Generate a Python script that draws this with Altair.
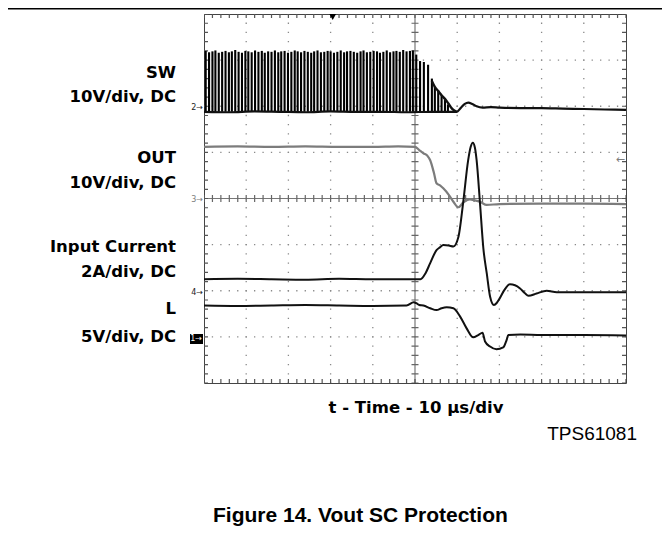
import altair as alt
import pandas as pd

# ---------------- data (divisions: x 0..10, y 0..8) ----------------
pulse_t = [0.04, 0.12, 0.20, 0.27, 0.35, 0.43, 0.51, 0.59, 0.66, 0.74,
           0.82, 0.90, 0.98, 1.05, 1.13, 1.21, 1.29, 1.37, 1.44, 1.52,
           1.60, 1.68, 1.76, 1.83, 1.91, 1.99, 2.07, 2.15, 2.22, 2.30,
           2.38, 2.46, 2.54, 2.61, 2.69, 2.77, 2.85, 2.93, 3.00, 3.08,
           3.16, 3.24, 3.32, 3.39, 3.47, 3.55, 3.63, 3.71, 3.78, 3.86,
           3.94, 4.02, 4.10, 4.17, 4.25, 4.33, 4.41, 4.49, 4.56, 4.64,
           4.72, 4.80, 4.88, 4.95,
           5.03, 5.12, 5.21, 5.31, 5.40, 5.47, 5.55, 5.63, 5.71, 5.78]
pulse_top = [7.20, 7.17, 7.19, 7.21, 7.16, 7.18, 7.20, 7.17, 7.19, 7.22,
             7.18, 7.16, 7.20, 7.19, 7.17, 7.21, 7.18, 7.20, 7.16, 7.19,
             7.18, 7.21, 7.17, 7.19, 7.20, 7.16, 7.18, 7.21, 7.19, 7.17,
             7.20, 7.18, 7.16, 7.19, 7.21, 7.17, 7.18, 7.20, 7.19, 7.16,
             7.18, 7.21, 7.17, 7.19, 7.20, 7.18, 7.16, 7.19, 7.21, 7.17,
             7.18, 7.20, 7.19, 7.16, 7.18, 7.21, 7.17, 7.19, 7.20, 7.18,
             7.22, 7.19, 7.20, 7.21,
             7.12, 6.98, 6.96, 6.90, 6.60, 6.42, 6.34, 6.24, 6.14, 6.04]
pulse_base = 5.88

sw_t = [0.0, 0.6, 1.2, 1.8, 2.4, 3.0, 3.6, 4.2, 4.8, 5.4, 5.85, 5.99, 6.08,
        6.18, 6.26, 6.36, 6.46, 6.6, 6.8, 7.0, 7.5, 8.0, 8.5, 9.0, 9.5, 10.0]
sw_v = [5.88, 5.87, 5.89, 5.88, 5.87, 5.89, 5.88, 5.88, 5.87, 5.88, 5.88, 5.88, 5.96,
        6.05, 6.08, 6.05, 6.00, 5.97, 5.98, 5.97, 5.96, 5.96, 5.95, 5.94, 5.93, 5.92]

swe_t = [5.40, 5.47, 5.55, 5.63, 5.71, 5.79, 5.85, 5.91, 5.99]
swe_v = [6.55, 6.42, 6.33, 6.24, 6.16, 6.06, 5.98, 5.92, 5.88]

out_t = [0.0, 0.8, 1.6, 2.4, 3.2, 4.0, 4.6, 5.0, 5.1, 5.2, 5.3, 5.36, 5.45, 5.51,
         5.6, 5.67, 5.8, 5.91, 6.03, 6.14, 6.3, 6.42, 6.54, 6.7, 7.0, 8.0, 9.0, 10.0]
out_v = [5.12, 5.13, 5.12, 5.13, 5.12, 5.12, 5.13, 5.12, 5.05, 4.98, 4.92, 4.83, 4.55, 4.33,
         4.28, 4.22, 4.08, 3.93, 3.81, 3.91, 3.98, 3.96, 3.93, 3.86, 3.88, 3.89, 3.89, 3.88]

cur_t = [0.0, 0.8, 1.6, 2.4, 3.2, 4.0, 4.8, 5.13, 5.25, 5.36, 5.51, 5.59, 5.67, 5.8,
         5.91, 6.03, 6.14, 6.26, 6.32, 6.37, 6.42, 6.46, 6.54, 6.62, 6.70, 6.78, 6.87,
         6.94, 7.01, 7.12, 7.25, 7.37, 7.49, 7.6, 7.69, 7.88, 8.12, 8.36, 9.0, 10.0]
cur_v = [2.25, 2.26, 2.25, 2.24, 2.26, 2.25, 2.25, 2.25, 2.38, 2.60, 2.88, 2.94, 2.99, 2.98,
         2.96, 3.17, 3.90, 4.83, 5.12, 5.21, 5.10, 4.83, 3.90, 2.92, 2.38, 1.87, 1.69,
         1.74, 1.84, 2.02, 2.14, 2.12, 2.05, 1.95, 1.89, 1.94, 2.00, 1.97, 1.97, 1.97]

l_t = [0.0, 0.8, 1.6, 2.4, 3.2, 4.0, 4.8, 4.97, 5.03, 5.1, 5.2, 5.36, 5.51, 5.63, 5.75,
       5.91, 6.07, 6.22, 6.38, 6.50, 6.60, 6.66, 6.78, 6.93, 7.09, 7.17, 7.21, 7.5, 8.0, 9.0, 10.0]
l_v = [1.68, 1.67, 1.68, 1.69, 1.68, 1.67, 1.68, 1.75, 1.73, 1.69, 1.68, 1.62, 1.58, 1.62, 1.64,
       1.62, 1.44, 1.19, 0.99, 1.04, 1.09, 0.90, 0.79, 0.73, 0.77, 0.93, 1.04, 1.05, 1.04, 1.04, 1.03]

x_range = [0, 10]
y_range = [0, 8]
major_x = [1, 2, 3, 4, 6, 7, 8, 9]
major_y = [1, 2, 3, 5, 6, 7]
center_x = [5]
center_y = [4]

marker_text = ["2\u2192", "4\u2192"]
marker_level = [5.96, 1.96]
marker3_text = ["3\u2192"]
marker3_level = [3.96]
ch1_text = ["1\u2192"]
ch1_level = [0.95]
ref_arrow = ["\u2190"]
ref_level = [4.83]
trigger_t = [3.05]

labels = ["SW", "10V/div, DC", "OUT", "10V/div, DC",
          "Input Current", "2A/div, DC", "L", "5V/div, DC"]
xlabel = ["t - Time - 10 \u00b5s/div"]
part = ["TPS61081"]
caption = ["Figure 14. Vout SC Protection"]

# ---------------- chart ----------------
xs = alt.Scale(domain=x_range, nice=False, zero=False)
ys = alt.Scale(domain=y_range, nice=False, zero=False)


def X(f):
    return alt.X(f, type="quantitative", scale=xs, axis=None)


def Y(f):
    return alt.Y(f, type="quantitative", scale=ys, axis=None)


def hrules(vals):
    df = pd.DataFrame({"v": vals})
    df["x0"] = x_range[0]
    df["x1"] = x_range[1]
    return df


def vrules(vals):
    df = pd.DataFrame({"t": vals})
    df["y0"] = y_range[0]
    df["y1"] = y_range[1]
    return df


def hrule_layer(vals, **kw):
    return alt.Chart(hrules(vals)).mark_rule(**kw).encode(y=Y("v"), x=X("x0"), x2="x1")


def vrule_layer(vals, **kw):
    return alt.Chart(vrules(vals)).mark_rule(**kw).encode(x=X("t"), y=Y("y0"), y2="y1")


layers = []

# dotted graticule
layers.append(hrule_layer(major_y, color="#8a8a8a", strokeWidth=1.3,
                          strokeDash=[1.3, 7.14], strokeDashOffset=0.65))
layers.append(vrule_layer(major_x, color="#8a8a8a", strokeWidth=1.3,
                          strokeDash=[1.3, 7.925], strokeDashOffset=0.65))

# center crosshair with minor ticks
layers.append(hrule_layer(center_y, color="#777777", strokeWidth=1.2))
layers.append(hrule_layer(center_y, color="#666666", strokeWidth=7,
                          strokeDash=[1.2, 7.24], strokeDashOffset=0.6))
layers.append(vrule_layer(center_x, color="#777777", strokeWidth=1.2))
layers.append(vrule_layer(center_x, color="#666666", strokeWidth=7,
                          strokeDash=[1.2, 8.025], strokeDashOffset=0.6))

# border ticks (inward)
layers.append(hrule_layer([y_range[1]], color="#555555", strokeWidth=4,
                          strokeDash=[1.2, 7.24], strokeDashOffset=0.6, yOffset=2))
layers.append(hrule_layer([y_range[0]], color="#555555", strokeWidth=4,
                          strokeDash=[1.2, 7.24], strokeDashOffset=0.6, yOffset=-2))
layers.append(vrule_layer([x_range[0]], color="#555555", strokeWidth=4,
                          strokeDash=[1.2, 8.025], strokeDashOffset=0.6, xOffset=2))
layers.append(vrule_layer([x_range[1]], color="#555555", strokeWidth=4,
                          strokeDash=[1.2, 8.025], strokeDashOffset=0.6, xOffset=-2))


def trace(t, v, color, width):
    return alt.Chart(pd.DataFrame({"t": t, "v": v})).mark_line(
        color=color, strokeWidth=width, interpolate="monotone"
    ).encode(x=X("t"), y=Y("v"))


# switching pulses
pulses = pd.DataFrame({"t": pulse_t, "top": pulse_top})
pulses["base"] = pulse_base
layers.append(alt.Chart(pulses).mark_rule(color="#000000", strokeWidth=2.1).encode(
    x=X("t"), y=Y("top"), y2="base"))

layers.append(trace(out_t, out_v, "#7c7c7c", 2.2))
layers.append(trace(sw_t, sw_v, "#111111", 2.2))
layers.append(trace(swe_t, swe_v, "#111111", 2.4))
layers.append(trace(cur_t, cur_v, "#111111", 2.0))
layers.append(trace(l_t, l_v, "#111111", 2.0))


def marker_df(texts, levels):
    df = pd.DataFrame({"s": texts, "lvl": levels})
    df["x0"] = x_range[0]
    return df


# channel ground markers
layers.append(alt.Chart(marker_df(marker_text, marker_level)).mark_text(
    font="DejaVu Sans", fontSize=8, align="right", baseline="middle", dx=-1, color="#222222"
).encode(x=X("x0"), y=Y("lvl"), text="s:N"))
layers.append(alt.Chart(marker_df(marker3_text, marker3_level)).mark_text(
    font="DejaVu Sans", fontSize=8, align="right", baseline="middle", dx=-1, color="#7c7c7c"
).encode(x=X("x0"), y=Y("lvl"), text="s:N"))

layers.append(alt.Chart(pd.DataFrame({"s": ch1_text})).mark_rect(color="black").encode(
    x=alt.value(-14), x2=alt.value(-1), y=alt.value(320), y2=alt.value(330)))
layers.append(alt.Chart(marker_df(ch1_text, ch1_level)).mark_text(
    font="DejaVu Sans", fontSize=8, align="right", baseline="middle", dx=-2, color="white"
).encode(x=X("x0"), y=Y("lvl"), text="s:N"))

ref_df = pd.DataFrame({"s": ref_arrow, "lvl": ref_level})
ref_df["x1"] = x_range[1]
layers.append(alt.Chart(ref_df).mark_text(
    font="DejaVu Sans", fontSize=11, align="right", baseline="middle", dx=-1, color="#7c7c7c"
).encode(x=X("x1"), y=Y("lvl"), text="s:N"))

trig_df = pd.DataFrame({"t": trigger_t})
trig_df["y1"] = y_range[1]
layers.append(alt.Chart(trig_df).mark_point(
    shape="triangle-down", filled=True, color="black", size=45, yOffset=3, opacity=1
).encode(x=X("t"), y=Y("y1")))

# page rule at top
layers.append(alt.Chart(pd.DataFrame({"s": ["line"]})).mark_rule(color="black", strokeWidth=1.5).encode(
    x=alt.value(-196), x2=alt.value(467), y=alt.value(-5.2)))

# channel labels
label_py = [78, 102, 163, 188, 252, 277, 314, 342]
for lab, py in zip(labels, label_py):
    layers.append(alt.Chart(pd.DataFrame({"s": [lab]})).mark_text(
        font="DejaVu Sans", fontWeight="bold", fontSize=16.5, align="right",
        baseline="alphabetic", color="black"
    ).encode(x=alt.value(-28), y=alt.value(py - 14), text="s:N"))

layers.append(alt.Chart(pd.DataFrame({"s": xlabel})).mark_text(
    font="DejaVu Sans", fontWeight="bold", fontSize=16.5, align="center",
    baseline="alphabetic", color="black"
).encode(x=alt.value(212), y=alt.value(399), text="s:N"))

layers.append(alt.Chart(pd.DataFrame({"s": part})).mark_text(
    font="Liberation Sans", fontSize=19, align="right", baseline="alphabetic", color="black"
).encode(x=alt.value(433), y=alt.value(426), text="s:N"))

layers.append(alt.Chart(pd.DataFrame({"s": caption})).mark_text(
    font="Liberation Sans", fontWeight="bold", fontSize=21, align="left",
    baseline="alphabetic", color="black"
).encode(x=alt.value(9), y=alt.value(508), text="s:N"))

chart = alt.layer(*layers).properties(
    width=422, height=369,
    autosize=alt.AutoSizeParams(type="none"),
    padding={"left": 196, "top": 6, "right": 36, "bottom": 148},
).configure_view(stroke="#444444", strokeWidth=1)

chart.save("out.html", embed_options={"renderer": "svg", "actions": False})
